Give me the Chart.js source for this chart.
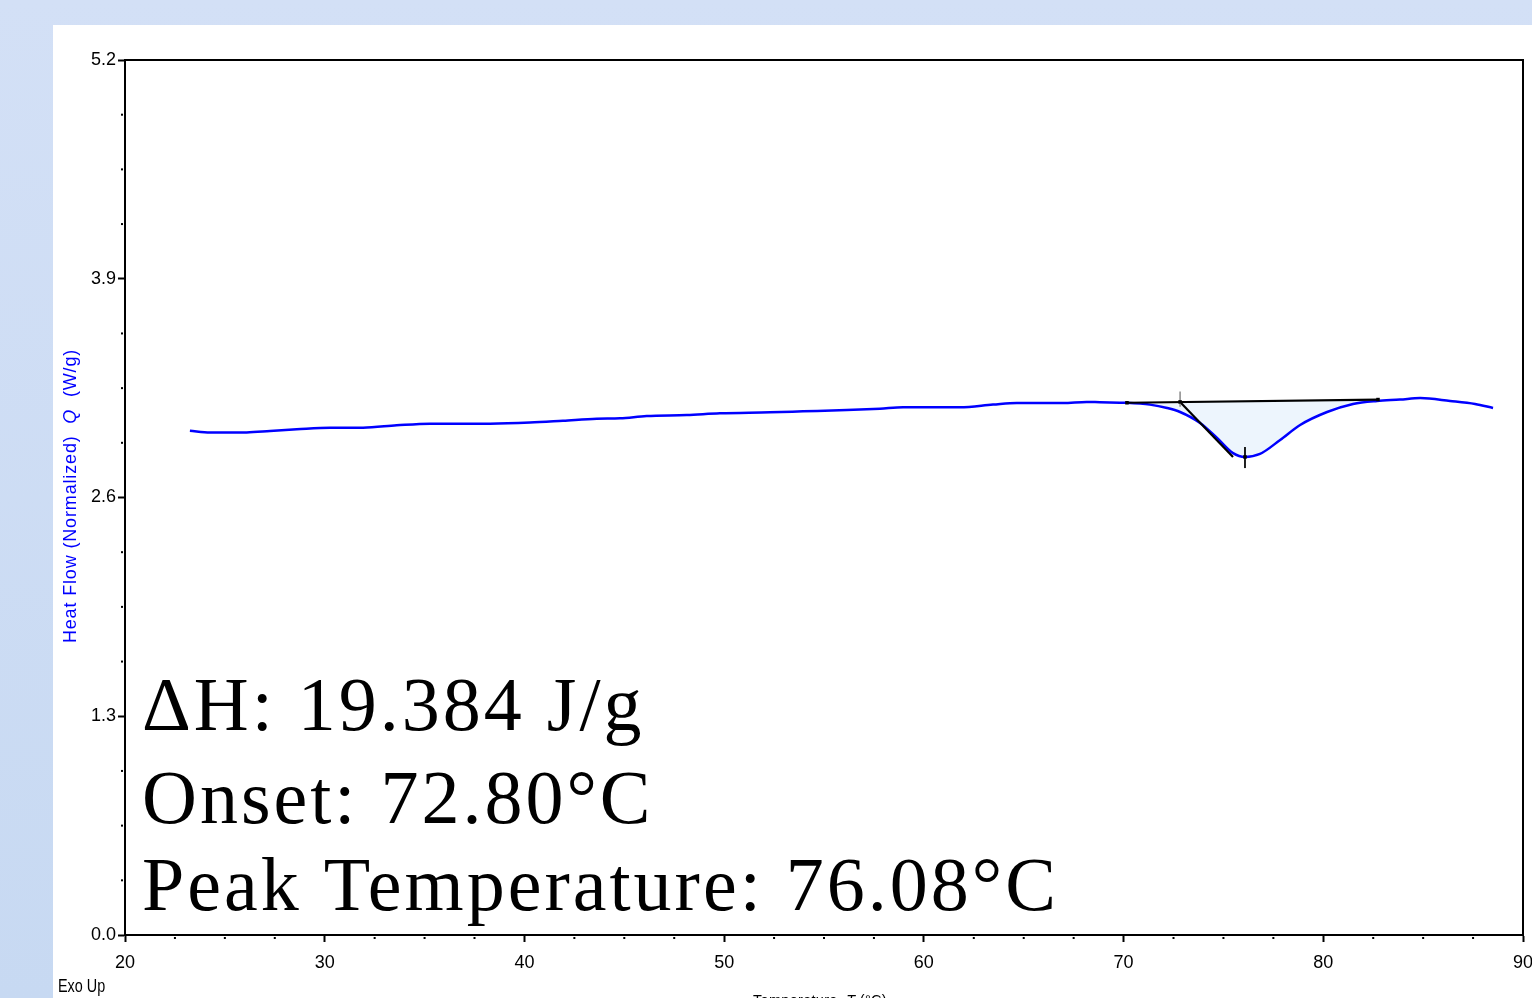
<!DOCTYPE html>
<html><head><meta charset="utf-8">
<script src="https://cdn.jsdelivr.net/npm/chart.js@4.4.0/dist/chart.umd.min.js"></script>
<style>
html,body{margin:0;padding:0;}
body{width:1532px;height:998px;overflow:hidden;background:linear-gradient(180deg,#d3e0f6 0%,#c7d9f2 100%);position:relative;}
#panel{position:absolute;left:53px;top:25px;width:1479px;height:973px;background:#fff;}
canvas{display:block;}
</style></head><body>
<div id="panel"><canvas id="c" width="1479" height="973"></canvas></div>
<script>
// ---- data ----
const temperature = [23.25,24.26,26.09,27.26,28.60,30.26,31.92,33.60,35.27,38.28,40.28,41.93,43.62,44.79,46.12,48.13,49.79,52.30,53.95,56.14,57.80,58.96,61.81,63.46,64.65,66.97,68.15,68.82,70.17,71.32,72.18,72.83,73.83,74.68,75.48,76.08,76.83,77.84,78.84,80.19,81.49,82.69,83.84,84.85,86.35,87.60,88.50];
const heatFlow    = [2.997,2.987,2.987,2.995,3.005,3.015,3.015,3.029,3.039,3.039,3.045,3.056,3.068,3.071,3.084,3.090,3.100,3.106,3.112,3.120,3.128,3.136,3.136,3.152,3.162,3.162,3.168,3.166,3.163,3.152,3.132,3.108,3.043,2.954,2.864,2.841,2.859,2.942,3.031,3.108,3.156,3.174,3.182,3.191,3.174,3.156,3.132];
const baselineT = [70.17, 82.74];
const baselineQ = [3.163, 3.182];
const tangentT  = [72.83, 75.48];
const tangentQ  = [3.168, 2.841];
const onsetMarkT = [72.83, 72.83];
const onsetMarkQ = [3.23, 3.14];
const peakMarkT  = [76.08, 76.08];
const peakMarkQ  = [2.90, 2.775];
const markerT = [72.83, 76.08];
const markerQ = [3.168, 2.841];
const xTickValues = [20,30,40,50,60,70,80,90];
const yTickValues = [0.0,1.3,2.6,3.9,5.2];
const xMinorStep = 2.5;
const yMinorStep = 0.325;
const annotations = ["ΔH: 19.384 J/g", "Onset: 72.80°C", "Peak Temperature: 76.08°C"];
const yTitleParts = [["Heat Flow (Normalized)  ", false], ["Q", true], ["  (W/g)", false]];
const xTitleParts = [["Temperature  ", false], ["T", true], [" (°C)", false]];
const exoLabel = "Exo Up";

const pts = (xs, ys) => xs.map((x, i) => ({x, y: ys[i]}));
const peakRegion = temperature.map((t, i) => ({x: t, y: heatFlow[i]}))
  .filter(p => p.x >= baselineT[0] && p.x <= baselineT[1]);

const SANS_N = "'Liberation Sans Narrow','Arial Narrow','Liberation Sans',Arial,sans-serif";

const decor = {
  id: 'decor',
  afterDraw(chart) {
    const {ctx, chartArea: a, scales: {x, y}} = chart;
    ctx.save();
    // frame
    ctx.strokeStyle = '#000'; ctx.lineWidth = 2;
    ctx.strokeRect(a.left, a.top, a.right - a.left, a.bottom - a.top);
    // minor ticks
    ctx.fillStyle = '#000';
    for (let v = x.min; v <= x.max + 1e-9; v += xMinorStep) {
      if (Math.abs(v / 10 - Math.round(v / 10)) < 1e-6) continue;
      const px = x.getPixelForValue(v);
      ctx.fillRect(px - 1, a.bottom + 2, 2, 2);
    }
    for (let v = y.min; v <= y.max + 1e-9; v += yMinorStep) {
      if (Math.abs(v / 1.3 - Math.round(v / 1.3)) < 1e-6) continue;
      const py = y.getPixelForValue(v);
      ctx.fillRect(a.left - 4, py - 1, 2, 2);
    }
    // annotation text
    ctx.fillStyle = '#000';
    ctx.font = "76px 'Liberation Serif','Times New Roman',serif";
    ctx.textBaseline = 'alphabetic'; ctx.textAlign = 'left';
    if ('letterSpacing' in ctx) ctx.letterSpacing = '3px';
    const base = [705, 798, 885];
    annotations.forEach((t, i) => ctx.fillText(t, 89, base[i]));
    if ('letterSpacing' in ctx) ctx.letterSpacing = '0px';
    const drawParts = (parts, size, spacing) => {
      let total = 0;
      const widths = parts.map(([s, it]) => {
        ctx.font = (it ? 'italic ' : '') + size + "px 'Liberation Sans',Arial,sans-serif";
        if ('letterSpacing' in ctx) ctx.letterSpacing = spacing + 'px';
        const w = ctx.measureText(s).width; total += w; return w;
      });
      let cx = -total / 2;
      parts.forEach(([s, it], i) => {
        ctx.font = (it ? 'italic ' : '') + size + "px 'Liberation Sans',Arial,sans-serif";
        if ('letterSpacing' in ctx) ctx.letterSpacing = spacing + 'px';
        ctx.fillText(s, cx, 0); cx += widths[i];
      });
      if ('letterSpacing' in ctx) ctx.letterSpacing = '0px';
    };
    // y title
    ctx.save();
    ctx.translate(23, 471);
    ctx.rotate(-Math.PI / 2);
    ctx.fillStyle = '#0000ff';
    drawParts(yTitleParts, 18, 0.85);
    ctx.restore();
    // x title (cut off at bottom)
    ctx.save();
    ctx.translate(767, 980);
    ctx.fillStyle = '#000';
    drawParts(xTitleParts, 14.5, 0.3);
    ctx.restore();
    // Exo Up
    ctx.save();
    ctx.translate(5, 967);
    ctx.scale(0.8, 1);
    ctx.fillStyle = '#000';
    ctx.font = "18px 'Liberation Sans',Arial,sans-serif";
    ctx.fillText(exoLabel, 0, 0);
    ctx.restore();
    ctx.restore();
  }
};

new Chart(document.getElementById('c'), {
  type: 'line',
  data: {
    datasets: [
      { data: pts(markerT, markerQ), showLine: false, pointStyle: 'rect', pointRadius: 2.5, pointBackgroundColor: '#000', pointBorderColor: '#000', pointBorderWidth: 0 },
      { data: pts(onsetMarkT, onsetMarkQ), borderColor: '#8a8a8a', borderWidth: 1.5, pointRadius: 0 },
      { data: pts(peakMarkT, peakMarkQ), borderColor: '#000', borderWidth: 1, pointRadius: 0 },
      { data: pts(tangentT, tangentQ), borderColor: '#000', borderWidth: 2.2, pointRadius: 0 },
      { data: pts(baselineT, baselineQ), borderColor: '#000', borderWidth: 2.2, pointStyle: 'rect', pointRadius: 2.5, pointBackgroundColor: '#000', pointBorderWidth: 0 },
      { data: pts(temperature, heatFlow), borderColor: '#0000ff', borderWidth: 2.5, pointRadius: 0, cubicInterpolationMode: 'monotone' },
      { data: peakRegion, borderColor: 'rgba(0,0,0,0)', borderWidth: 0, pointRadius: 0, cubicInterpolationMode: 'monotone', backgroundColor: '#edf5fd', fill: {target: 4} }
    ]
  },
  options: {
    responsive: false, animation: false, devicePixelRatio: 1,
    layout: { padding: { top: 35, right: 9, left: 0, bottom: 0 } },
    plugins: { legend: { display: false }, tooltip: { enabled: false }, title: { display: false } },
    scales: {
      x: {
        type: 'linear', min: 20, max: 90,
        afterBuildTicks: s => { s.ticks = xTickValues.map(v => ({value: v})); },
        afterFit: s => { s.height = 63; s.paddingLeft = 0; s.paddingRight = 0; },
        ticks: { color: '#000', font: { size: 18, family: SANS_N }, padding: 10, maxRotation: 0, autoSkip: false, callback: v => String(v) },
        grid: { drawOnChartArea: false, drawTicks: true, tickLength: 7, tickColor: '#000', tickWidth: 2 },
        border: { display: true, color: '#000', width: 2 }
      },
      y: {
        type: 'linear', min: 0, max: 5.2,
        afterBuildTicks: s => { s.ticks = yTickValues.map(v => ({value: v})); },
        afterFit: s => { s.width = 72; s.paddingTop = 0; s.paddingBottom = 0; },
        ticks: { color: '#000', font: { size: 18, family: SANS_N }, padding: 2, autoSkip: false, callback: v => Number(v).toFixed(1) },
        grid: { drawOnChartArea: false, drawTicks: true, tickLength: 7, tickColor: '#000', tickWidth: 2 },
        border: { display: true, color: '#000', width: 2 }
      }
    }
  },
  plugins: [decor]
});
</script>
</body></html>
